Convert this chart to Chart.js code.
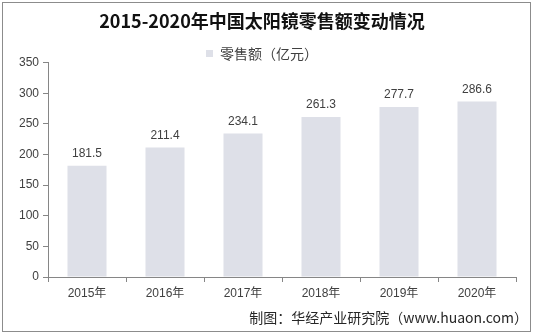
<!DOCTYPE html>
<html>
<head>
<meta charset="utf-8">
<script src="https://cdn.jsdelivr.net/npm/chart.js@4/dist/chart.umd.min.js"></script>
<style>
html,body{margin:0;padding:0;background:#fff;}
#wrap{width:533px;height:334px;position:relative;}
</style>
</head>
<body>
<div id="wrap"><canvas id="c" width="533" height="334"></canvas></div>
<script>
const categories = ["2015年","2016年","2017年","2018年","2019年","2020年"];
const sales = [181.5, 211.4, 234.1, 261.3, 277.7, 286.6];
const seriesName = "零售额（亿元）";
const titleText = "2015-2020年中国太阳镜零售额变动情况";
const sourceText = "制图：华经产业研究院（www.huaon.com）";
const yTicks = [0, 50, 100, 150, 200, 250, 300, 350];

const FONT = "'Liberation Sans', Arial, 'Noto Sans CJK SC', sans-serif";

const extras = {
  id: 'extras',
  afterDatasetsDraw(chart) {
    const ctx = chart.ctx;
    const meta = chart.getDatasetMeta(0);
    ctx.save();
    ctx.font = "12px " + FONT;
    ctx.fillStyle = "#404040";
    ctx.textAlign = "center";
    ctx.textBaseline = "bottom";
    meta.data.forEach((bar, i) => {
      ctx.fillText(sales[i].toFixed(1), bar.x, bar.y - 6);
    });
    ctx.restore();
  },
  afterDraw(chart) {
    const ctx = chart.ctx;
    ctx.save();
    ctx.font = "14px 'Noto Sans CJK SC', " + FONT;
    ctx.fillStyle = "#262626";
    ctx.textAlign = "right";
    ctx.textBaseline = "middle";
    ctx.fillText(sourceText, 528, 318);
    ctx.strokeStyle = "#8c8c8c";
    ctx.lineWidth = 1;
    ctx.strokeRect(2.5, 2.5, 528, 329);
    ctx.restore();
  }
};

new Chart(document.getElementById('c'), {
  type: 'bar',
  data: {
    labels: categories,
    datasets: [{
      label: seriesName,
      data: sales,
      backgroundColor: '#dee0e8',
      borderWidth: 0,
      categoryPercentage: 1,
      barPercentage: 0.5
    }]
  },
  options: {
    responsive: false,
    animation: false,
    layout: { padding: { left: 8, right: 17, top: 0, bottom: 0 } },
    plugins: {
      title: {
        display: true,
        text: titleText,
        color: '#111',
        font: { family: "'Noto Sans CJK SC', serif", size: 18, weight: 'bold' },
        padding: { top: 10, bottom: 13 }
      },
      legend: {
        display: true,
        maxHeight: 18,
        labels: {
          boxWidth: 7, boxHeight: 7,
          color: '#404040',
          font: { family: "'Noto Sans CJK SC', sans-serif", size: 14 },
          padding: 2
        }
      },
      tooltip: { enabled: false }
    },
    scales: {
      x: {
        offset: true,
        grid: { offset: true, drawOnChartArea: false, drawTicks: true, tickLength: 5, color: '#868686' },
        border: { color: '#868686' },
        ticks: { color: '#404040', font: { family: FONT, size: 12 }, padding: 4 },
        afterFit(scale) { scale.height = 57; }
      },
      y: {
        min: 0, max: 350,
        afterBuildTicks(scale) { scale.ticks = yTicks.map(v => ({ value: v })); },
        grid: { drawOnChartArea: false, drawTicks: true, tickLength: 5, color: '#868686' },
        border: { color: '#868686' },
        ticks: { color: '#404040', font: { family: FONT, size: 12 }, padding: 4 },
        afterFit(scale) { scale.width = 40; }
      }
    }
  },
  plugins: [extras]
});
</script>
</body>
</html>
